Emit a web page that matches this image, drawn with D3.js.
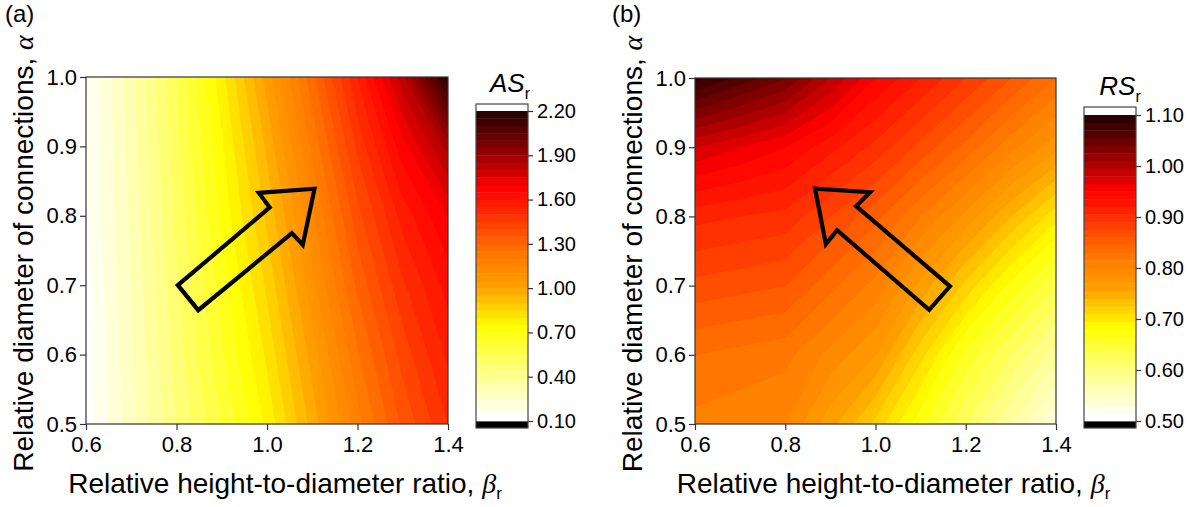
<!DOCTYPE html>
<html><head><meta charset="utf-8">
<script src="https://cdn.jsdelivr.net/npm/d3@7"></script>
<style>
body{margin:0;background:#fff}
svg text{font-family:"Liberation Sans",Arial,sans-serif;fill:#000}
</style>
</head><body>
<svg id="c" width="1199" height="507"></svg>
<script>
// ---------- data ----------
const beta  = [0.6, 0.7, 0.8, 0.9, 1.0, 1.1, 1.2, 1.3, 1.4];
const alpha = [0.5, 0.6, 0.7, 0.8, 0.9, 1.0];

// (a) AS_r, one row per alpha (0.5 ... 1.0), columns follow beta
const asR_alpha050 = [0.12, 0.28, 0.45, 0.60, 0.76, 0.97, 1.18, 1.36, 1.50];
const asR_alpha060 = [0.13, 0.29, 0.47, 0.64, 0.81, 1.02, 1.24, 1.42, 1.56];
const asR_alpha070 = [0.13, 0.30, 0.49, 0.67, 0.86, 1.08, 1.31, 1.49, 1.62];
const asR_alpha080 = [0.14, 0.31, 0.51, 0.71, 0.91, 1.14, 1.38, 1.57, 1.70];
const asR_alpha090 = [0.14, 0.32, 0.53, 0.74, 0.96, 1.21, 1.46, 1.68, 1.87];
const asR_alpha100 = [0.15, 0.33, 0.55, 0.78, 1.02, 1.28, 1.55, 1.83, 2.19];

// (b) RS_r
const rsR_alpha050 = [0.81, 0.805, 0.80, 0.76, 0.72, 0.67, 0.62, 0.575, 0.53];
const rsR_alpha060 = [0.83, 0.825, 0.82, 0.795, 0.77, 0.715, 0.66, 0.62, 0.58];
const rsR_alpha070 = [0.87, 0.865, 0.86, 0.835, 0.81, 0.765, 0.72, 0.675, 0.635];
const rsR_alpha080 = [0.91, 0.905, 0.90, 0.875, 0.85, 0.815, 0.78, 0.74, 0.70];
const rsR_alpha090 = [0.98, 0.965, 0.95, 0.925, 0.90, 0.87, 0.84, 0.805, 0.775];
const rsR_alpha100 = [1.09, 1.065, 1.04, 0.995, 0.95, 0.92, 0.89, 0.86, 0.83];

// ticks
const xTickValues = [0.6, 0.8, 1.0, 1.2, 1.4];
const yTickValues = [0.5, 0.6, 0.7, 0.8, 0.9, 1.0];
const asColorTicks = [0.1, 0.4, 0.7, 1.0, 1.3, 1.6, 1.9, 2.2];
const rsColorTicks = [0.5, 0.6, 0.7, 0.8, 0.9, 1.0, 1.1];
const asLevelRange = [0.1, 2.2];
const rsLevelRange = [0.5, 1.1];
const asLevelCount = 42;
const rsLevelCount = 40;

// arrow annotations (data coordinates)
const arrowA_beta  = [0.803, 1.006, 0.982, 1.105, 1.079, 1.055, 0.848];
const arrowA_alpha = [0.700, 0.812, 0.833, 0.839, 0.758, 0.775, 0.664];
const arrowB_beta  = [0.866, 0.988, 0.957, 1.165, 1.119, 0.915, 0.890];
const arrowB_alpha = [0.840, 0.835, 0.815, 0.699, 0.665, 0.780, 0.760];

// ---------- palette ----------
const palette = d3.scaleLinear()
  .domain([0, 0.15, 0.3, 0.43, 0.52, 0.57, 0.71, 0.76, 0.86, 1])
  .range(["#ffffff", "#ffff88", "#ffff00", "#ffa000", "#ff8000", "#ff6800", "#ff1800", "#ff0000", "#a00000", "#2a0000"])
  .interpolate(d3.interpolateRgb);

const svg = d3.select("#c");

function drawPanel(o) {
  const xs = d3.scaleLinear().domain([beta[0], beta[beta.length - 1]]).range([o.left, o.right]);
  const ys = d3.scaleLinear().domain([alpha[0], alpha[alpha.length - 1]]).range([o.bottom, o.top]);
  const g = svg.append("g");

  const clipId = "clip" + o.id;
  svg.append("clipPath").attr("id", clipId)
    .append("rect").attr("x", o.left).attr("y", o.top)
    .attr("width", o.right - o.left).attr("height", o.bottom - o.top);

  // padded grid (edge replicated) so contours stay clean at the frame
  const nx = beta.length + 2, ny = alpha.length + 2;
  const vals = new Array(nx * ny);
  for (let r = 0; r < ny; r++) {
    const j = Math.max(0, Math.min(alpha.length - 1, r - 1));
    for (let c = 0; c < nx; c++) {
      const i = Math.max(0, Math.min(beta.length - 1, c - 1));
      vals[r * nx + c] = o.rows[j][i];
    }
  }
  const db = beta[1] - beta[0], da = alpha[1] - alpha[0];
  const tf = d3.geoTransform({
    point: function (x, y) {
      this.stream.point(xs(beta[0] + (x - 1.5) * db), ys(alpha[0] + (y - 1.5) * da));
    }
  });
  const path = d3.geoPath(tf);

  const [lo, hi] = o.range;
  const step = (hi - lo) / o.count;
  const levels = d3.range(o.count).map(k => lo + k * step);
  const colorOf = k => palette(k / (o.count - 1));
  const contours = d3.contours().size([nx, ny]).thresholds(levels)(vals);

  const cg = g.append("g").attr("clip-path", `url(#${clipId})`);
  contours.forEach((c, k) => {
    cg.append("path").attr("d", path(c)).attr("fill", colorOf(k))
      .attr("stroke", colorOf(k)).attr("stroke-width", 0.6);
  });

  // arrow
  const line = d3.line().x(d => xs(d[0])).y(d => ys(d[1]));
  const pts = o.arrowB.map((b, i) => [b, o.arrowA[i]]);
  g.append("path").attr("d", line(pts) + "Z")
    .attr("fill", "none").attr("stroke", "#000").attr("stroke-width", 4.2)
    .attr("stroke-linejoin", "miter").attr("stroke-miterlimit", 10)
    .attr("clip-path", `url(#${clipId})`);

  // frame
  g.append("rect").attr("x", o.left).attr("y", o.top)
    .attr("width", o.right - o.left).attr("height", o.bottom - o.top)
    .attr("fill", "none").attr("stroke", "#333").attr("stroke-width", 1.2);

  // axes
  const xa = g.append("g").attr("transform", `translate(0,${o.bottom})`)
    .call(d3.axisBottom(xs).tickValues(xTickValues).tickFormat(d3.format(".1f")).tickSize(6).tickSizeOuter(0).tickPadding(6));
  const ya = g.append("g").attr("transform", `translate(${o.left},0)`)
    .call(d3.axisLeft(ys).tickValues(yTickValues).tickFormat(d3.format(".1f")).tickSize(6).tickSizeOuter(0).tickPadding(3));
  [xa, ya].forEach(a => {
    a.attr("font-family", null);
    a.select(".domain").remove();
    a.selectAll(".tick line").attr("stroke", "#333").attr("stroke-width", 1.2);
    a.selectAll(".tick text").attr("font-size", 22);
  });

  // axis titles
  const xt = g.append("text").attr("x", (o.left + o.right) / 2 + 18).attr("y", 493)
    .attr("text-anchor", "middle").attr("font-size", 28);
  xt.append("tspan").text("Relative height-to-diameter ratio, ");
  xt.append("tspan").attr("font-style", "italic").attr("font-family", "'Liberation Serif',serif").text("β");
  xt.append("tspan").attr("font-size", 17).attr("dy", 6).text("r");

  const yt = g.append("text").attr("transform", `translate(${o.ylabX},${(o.top + o.bottom) / 2 + 3}) rotate(-90)`)
    .attr("text-anchor", "middle").attr("font-size", 28);
  yt.append("tspan").text("Relative diameter of connections, ");
  yt.append("tspan").attr("font-style", "italic").attr("font-family", "'Liberation Serif',serif").text("α");

  // panel tag
  g.append("text").attr("x", o.tagX).attr("y", 22).attr("font-size", 24).text(o.tag);

  // colorbar
  const cb = o.cb;
  const cs = d3.scaleLinear().domain(o.range).range([cb.y0, cb.y1]);
  const cbg = g.append("g");
  cbg.append("rect").attr("x", cb.x).attr("y", cb.top).attr("width", cb.w).attr("height", cs(hi) - cb.top).attr("fill", "#ffffff");
  cbg.append("rect").attr("x", cb.x).attr("y", cs(lo)).attr("width", cb.w).attr("height", cb.bottom - cs(lo)).attr("fill", "#000");
  levels.forEach((lv, k) => {
    cbg.append("rect").attr("x", cb.x).attr("y", cs(lv + step)).attr("width", cb.w)
      .attr("height", cs(lv) - cs(lv + step) + 0.4).attr("fill", colorOf(k));
  });
  cbg.append("rect").attr("x", cb.x).attr("y", cb.top).attr("width", cb.w).attr("height", cb.bottom - cb.top)
    .attr("fill", "none").attr("stroke", "#444").attr("stroke-width", 1.2);
  const ca = cbg.append("g").attr("transform", `translate(${cb.x + cb.w},0)`)
    .call(d3.axisRight(cs).tickValues(o.cticks).tickFormat(d3.format(".2f")).tickSize(5).tickSizeOuter(0).tickPadding(4));
  ca.attr("font-family", null);
  ca.select(".domain").remove();
  ca.selectAll(".tick line").attr("stroke", "#333").attr("stroke-width", 1.2);
  ca.selectAll(".tick text").attr("font-size", 20);

  const tt = cbg.append("text").attr("x", cb.x + cb.w / 2 + o.ctitleDx).attr("y", cb.top - 12)
    .attr("text-anchor", "middle").attr("font-size", 26);
  tt.append("tspan").attr("font-style", "italic").text(o.ctitle);
  tt.append("tspan").attr("font-size", 16).attr("dy", 7).text("r");
}

drawPanel({
  id: "a", tag: "(a)", tagX: 5, left: 86, right: 448, top: 77, bottom: 424, ylabX: 33,
  rows: [asR_alpha050, asR_alpha060, asR_alpha070, asR_alpha080, asR_alpha090, asR_alpha100],
  range: asLevelRange, count: asLevelCount, cticks: asColorTicks, ctitle: "AS", ctitleDx: 8,
  arrowB: arrowA_beta, arrowA: arrowA_alpha,
  cb: { x: 476, w: 52, top: 104, bottom: 428, y0: 421, y1: 111 }
});
drawPanel({
  id: "b", tag: "(b)", tagX: 612, left: 695, right: 1056, top: 78, bottom: 424, ylabX: 642,
  rows: [rsR_alpha050, rsR_alpha060, rsR_alpha070, rsR_alpha080, rsR_alpha090, rsR_alpha100],
  range: rsLevelRange, count: rsLevelCount, cticks: rsColorTicks, ctitle: "RS", ctitleDx: 10,
  arrowB: arrowB_beta, arrowA: arrowB_alpha,
  cb: { x: 1084, w: 52, top: 107, bottom: 428, y0: 421, y1: 115 }
});
</script>
</body></html>
